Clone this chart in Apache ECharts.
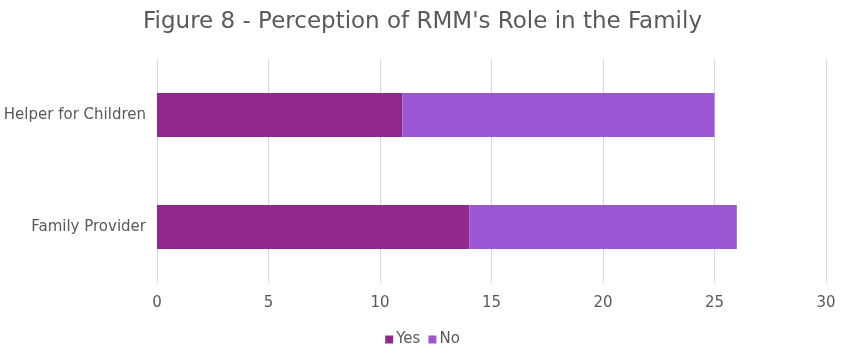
<!DOCTYPE html>
<html>
<head>
<meta charset="utf-8">
<script src="https://cdn.jsdelivr.net/npm/echarts@6/dist/echarts.min.js"></script>
<style>
  html, body { margin: 0; padding: 0; background: #fff; }
  #chart { width: 845px; height: 353px; }
</style>
</head>
<body>
<div id="chart"></div>
<script>
// 数据
var categories = ['Family Provider', 'Helper for Children'];
var yesValues = [14, 11];
var noValues = [12, 14];
var seriesNames = ['Yes', 'No'];

var fontFamily = '"DejaVu Sans", Lato, sans-serif';
var textColor = '#595959';

var myChart = echarts.init(document.getElementById('chart'));

let option = {
    title: {
        text: "Figure 8 - Perception of RMM's Role in the Family",
        left: 'center',
        top: 6,
        textStyle: {
            color: textColor,
            fontSize: 23,
            fontWeight: 'normal',
            fontFamily: fontFamily
        }
    },
    legend: {
        data: seriesNames,
        bottom: 1,
        left: 'center',
        itemWidth: 8,
        itemHeight: 8,
        itemGap: 8,
        icon: 'rect',
        textStyle: {
            color: textColor,
            fontSize: 15,
            fontFamily: fontFamily,
            padding: [0, 0, 0, -2]
        }
    },
    grid: {
        left: 157,
        right: 19,
        top: 59,
        bottom: 70
    },
    xAxis: {
        type: 'value',
        min: 0,
        max: 30,
        interval: 5,
        axisLine: { show: false },
        axisTick: { show: false },
        splitLine: { lineStyle: { color: '#d9d9d9', width: 1 } },
        axisLabel: {
            color: textColor,
            fontSize: 15,
            fontFamily: fontFamily,
            margin: 13
        }
    },
    yAxis: {
        type: 'category',
        data: categories,
        axisLine: { show: false },
        axisTick: { show: false },
        axisLabel: {
            color: textColor,
            fontSize: 15,
            fontFamily: fontFamily,
            margin: 11
        }
    },
    series: [
        {
            name: seriesNames[0],
            type: 'bar',
            stack: 'total',
            barWidth: 44,
            itemStyle: { color: '#92278F' },
            data: yesValues
        },
        {
            name: seriesNames[1],
            type: 'bar',
            stack: 'total',
            barWidth: 44,
            itemStyle: { color: '#9B57D3' },
            data: noValues
        }
    ]
};

myChart.setOption(option);
</script>
</body>
</html>
